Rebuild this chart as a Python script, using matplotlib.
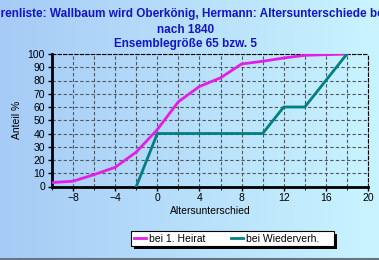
import numpy as np
import matplotlib
matplotlib.use("Agg")
import matplotlib.pyplot as plt
from matplotlib.ticker import MultipleLocator
from matplotlib.patches import Rectangle
from matplotlib.colors import LinearSegmentedColormap

plt.rcParams['font.family'] = ['Liberation Sans', 'DejaVu Sans']

# Altersunterschied (x) und Anteil % (y)
x_heirat = [-10, -8, -6, -4, -2, 0, 2, 4, 6, 8, 10, 12, 14, 16, 18]
y_heirat = [3, 4, 9, 14.5, 26, 43, 64, 75.5, 82, 92.5, 94.5, 97, 99, 99.5, 100]

x_wieder = [-2, 0, 2, 4, 6, 8, 10, 12, 14, 16, 18]
y_wieder = [0, 40, 40, 40, 40, 40, 40, 60, 60, 80, 100]

title1 = "Vorfahrenliste: Wallbaum wird Oberkönig, Hermann: Altersunterschiede bei Heirat"
title2 = "nach 1840"
title3 = "Ensemblegröße 65 bzw. 5"

fig = plt.figure(figsize=(3.79, 2.60), dpi=100)

# background gradient
bg = fig.add_axes([0, 0, 1, 1], zorder=-10)
grad = np.linspace(0, 1, 256).reshape(1, -1)
cmap = LinearSegmentedColormap.from_list("bg", ["#a6cbf6", "#c9f4ff"])
bg.imshow(grad, aspect='auto', cmap=cmap, extent=[0, 1, 0, 1])
bg.axhline(0.003, color='#6a7480', lw=1.5)
bg.set_xlim(0, 1)
bg.set_ylim(0, 1)
bg.axis('off')

ax = fig.add_axes([52/379, 1 - 186.5/260, 316/379, 132.5/260])
ax.patch.set_alpha(0)

ax.plot(x_heirat, y_heirat, color='#e41ee4', lw=2, label='bei 1. Heirat', zorder=3)
ax.plot(x_wieder, y_wieder, color='#008080', lw=2, label='bei Wiederverh.    ', zorder=3)

ax.set_xlim(-10, 20)
ax.set_ylim(0, 100)
ax.xaxis.set_minor_locator(MultipleLocator(2))
ax.set_xticks([-8, -4, 0, 4, 8, 12, 16, 20])
ax.yaxis.set_major_locator(MultipleLocator(10))

ax.grid(True, which='both', axis='x', color='#505860', ls=(0, (3, 2)), lw=0.8)
ax.grid(True, which='major', axis='y', color='#505860', ls=(0, (3, 2)), lw=0.8)

for s in ['left', 'bottom']:
    ax.spines[s].set_linewidth(2)
    ax.spines[s].set_color('black')
for s in ['top', 'right']:
    ax.spines[s].set_linestyle((0, (3, 2)))
    ax.spines[s].set_linewidth(0.8)

ax.tick_params(labelsize=7.5, length=3, width=1, pad=2, colors='black')
ax.tick_params(which='minor', length=2)

ax.set_xlabel("Altersunterschied", fontsize=7.5, labelpad=2)
ax.set_ylabel("Anteil %", fontsize=7.5, labelpad=4)

# title (first line is wider than the chart and gets cut at the edges)
fig.text(-36/379, 1 - 14/260, title1, ha='left', va='center', fontsize=8.5,
         fontweight='bold', color='#1414c8')
fig.text(186/379, 1 - 30/260, title2, ha='center', va='center', fontsize=8.5,
         fontweight='bold', color='#1414c8')
fig.text(186/379, 1 - 43.5/260, title3, ha='center', va='center', fontsize=8.5,
         fontweight='bold', color='#1414c8')

# legend with black shadow
leg = fig.legend(loc='center', bbox_to_anchor=(232.5/379, 1 - 238.5/260), ncol=2,
                 fontsize=7.5, frameon=True, fancybox=False, handlelength=1.15,
                 handletextpad=0.35, columnspacing=2.4, borderpad=0.25,
                 borderaxespad=0)
leg.get_frame().set_edgecolor('black')
leg.get_frame().set_linewidth(0.8)
leg.get_frame().set_facecolor('white')
leg.get_frame().set_alpha(1)
leg.set_zorder(5)

fig.canvas.draw()
bb = leg.get_window_extent().transformed(fig.transFigure.inverted())
fig.patches.append(Rectangle((bb.x0 + 3/379, bb.y0 - 3/260), bb.width, bb.height,
                             transform=fig.transFigure, facecolor='black',
                             edgecolor='none', zorder=4))

fig.savefig("out.png", dpi=100)
